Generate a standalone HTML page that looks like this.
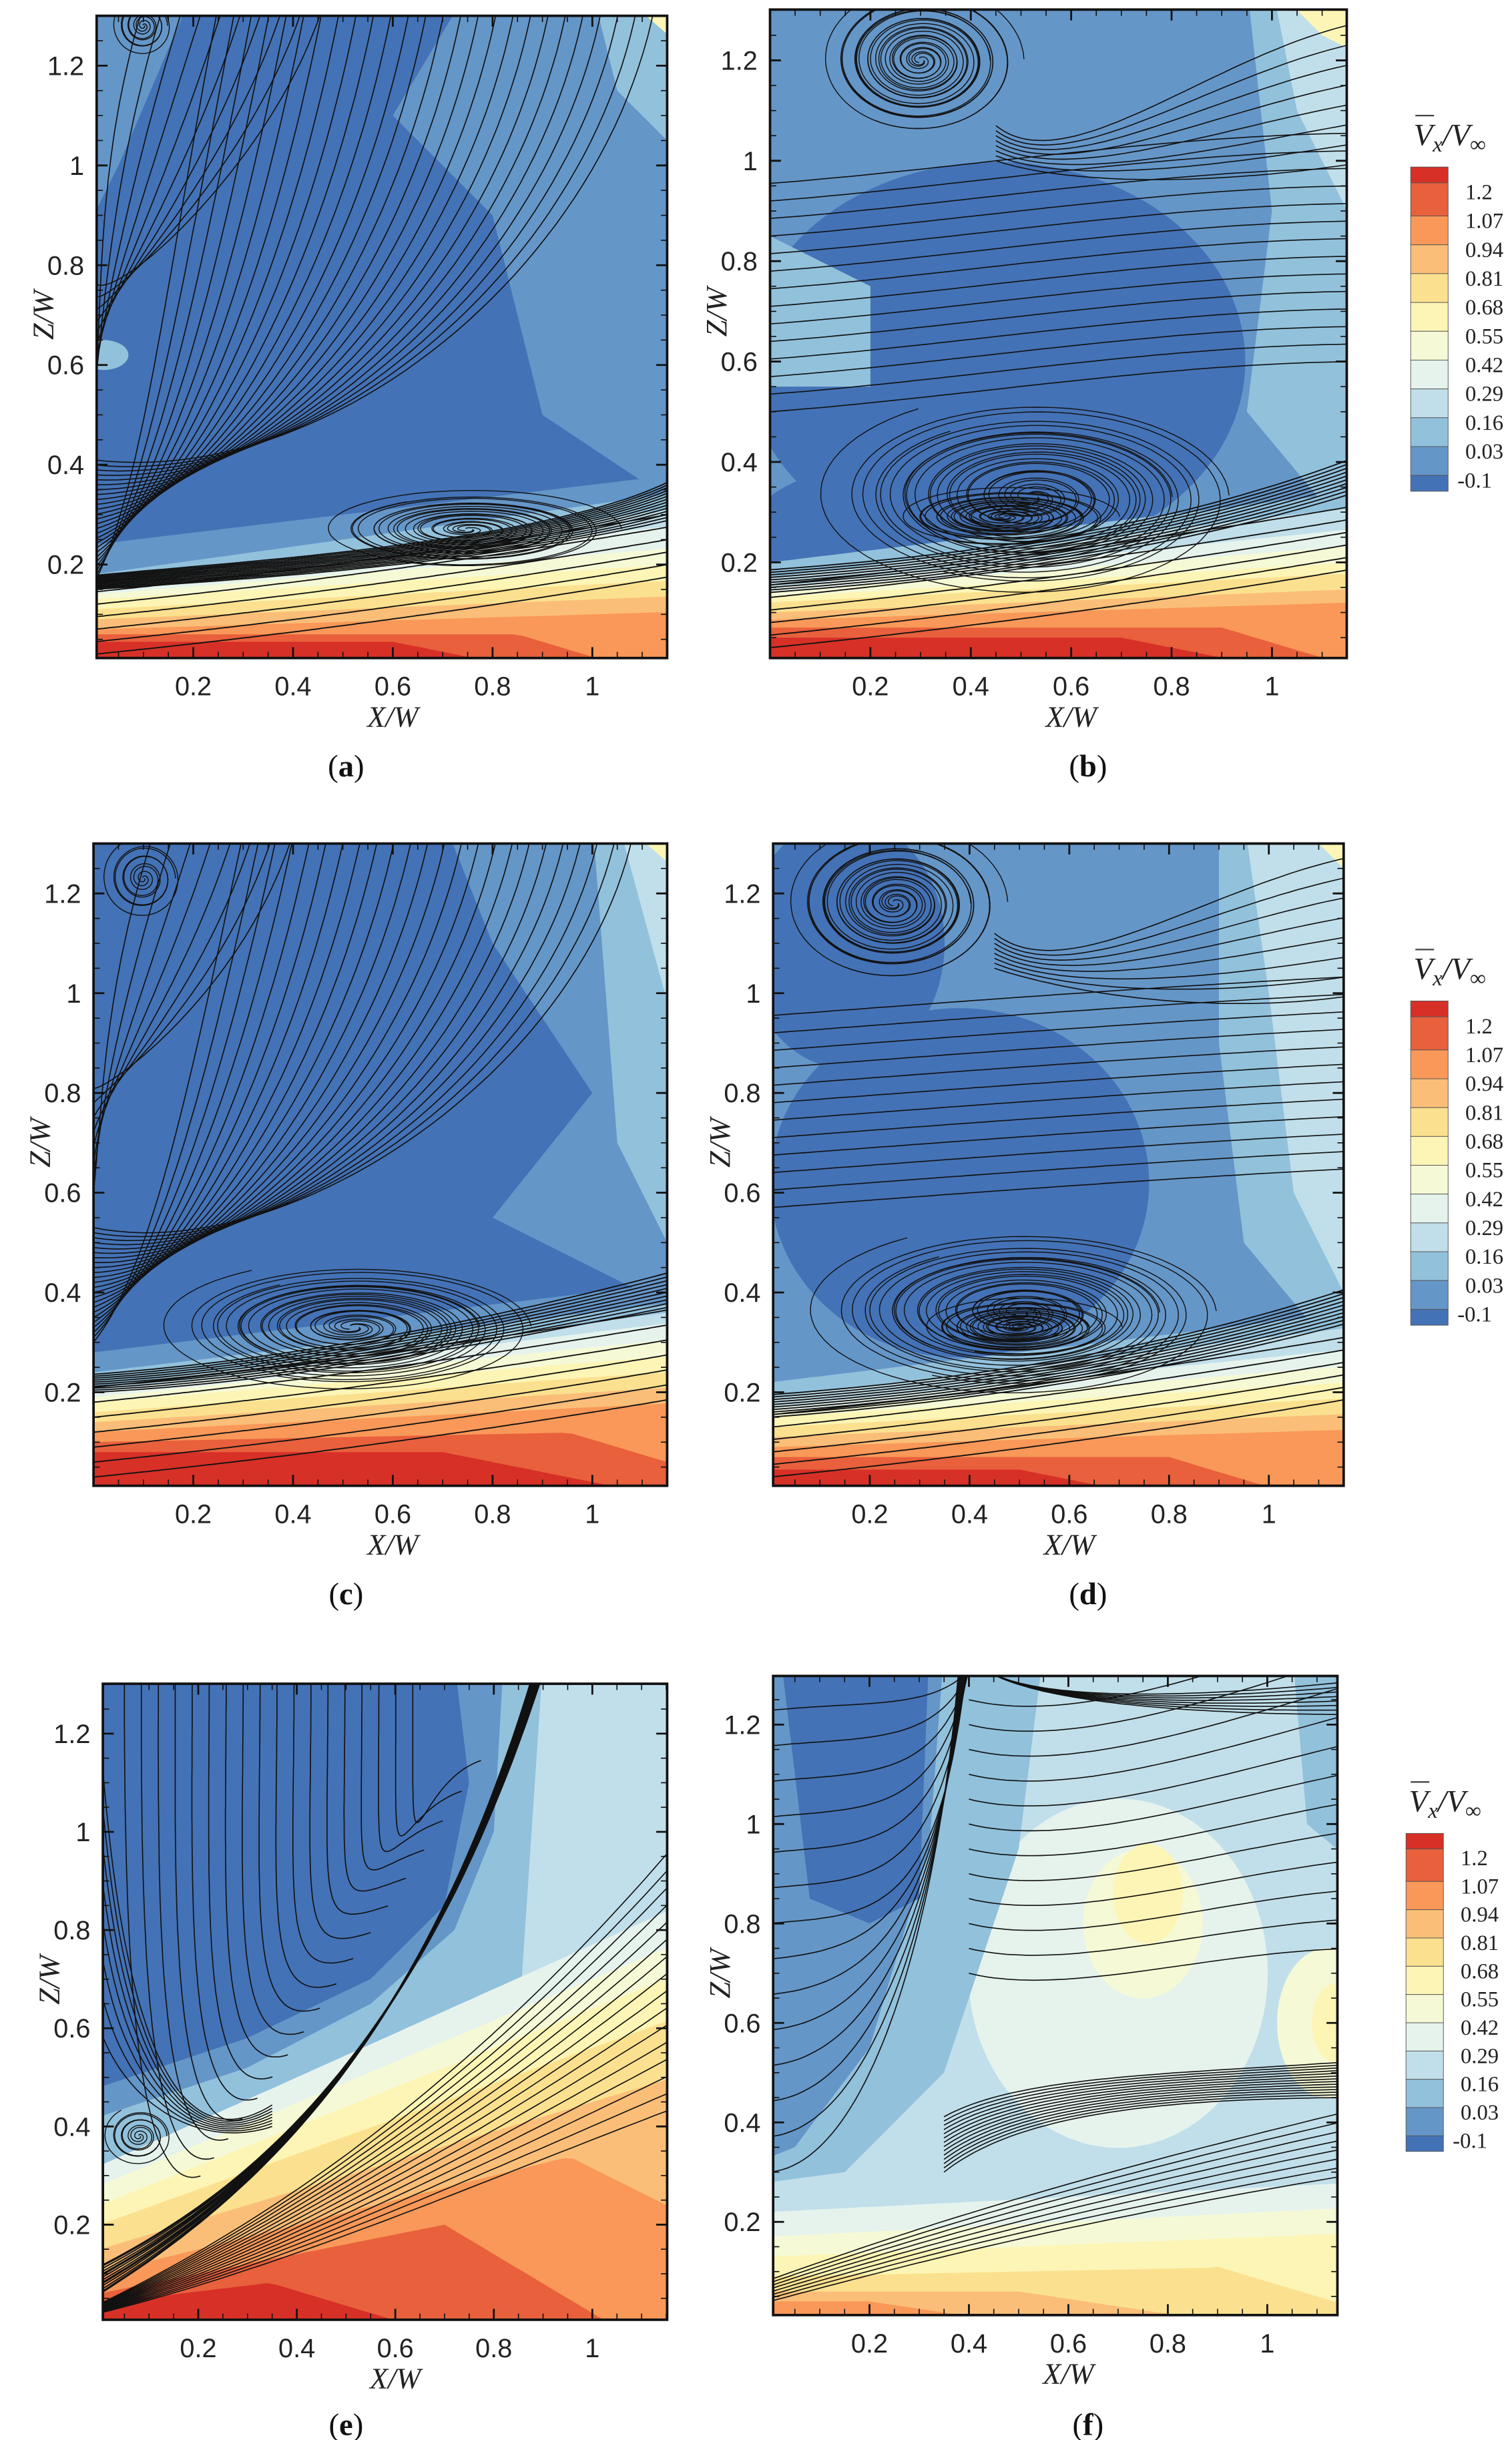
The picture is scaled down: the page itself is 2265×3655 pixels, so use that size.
<!DOCTYPE html>
<html><head><meta charset="utf-8"><style>
html,body{margin:0;padding:0;background:#fff;}
svg{display:block;}
</style></head><body>
<svg id="s" xmlns="http://www.w3.org/2000/svg" width="2265" height="3655" viewBox="0 0 970 1565">
<rect width="970" height="1565" fill="#fff"/>
</svg>
<script>
var S=document.getElementById('s'),NS='http://www.w3.org/2000/svg';
function el(t,a,p){var e=document.createElementNS(NS,t);for(var k in a)e.setAttribute(k,a[k]);(p||S).appendChild(e);return e;}
var C=['#d73027','#e8603c','#f99858','#fbbe78','#fbe18f','#fdf5b5','#f5f9d5','#e6f3ed','#c1dfea','#92c1dc','#6596c8','#4472b6'];
function Panel(id,x0,z0,sx,sz,box){
 var P={};P.X=function(x){return x0+x*sx};P.Z=function(z){return z0-z*sz};
 var d=el('defs',{});var cp=el('clipPath',{id:'c'+id},d);
 el('rect',{x:box[0],y:box[1],width:box[2]-box[0],height:box[3]-box[1]},cp);
 P.g=el('g',{'clip-path':'url(#c'+id+')'});P.box=box;P.id=id;return P;}
function base(P,c){el('rect',{x:P.box[0],y:P.box[1],width:P.box[2]-P.box[0],height:P.box[3]-P.box[1],fill:c},P.g);}
function below(P,c,f,x1,x2){x1=x1||0;x2=(x2===undefined)?1.2:x2;var s='M'+P.X(x1)+','+P.Z(-0.2);
 for(var x=x1;x<=x2+1e-9;x+=0.02){s+=' L'+P.X(x).toFixed(1)+','+P.Z(f(x)).toFixed(1);}
 s+=' L'+P.X(x2)+','+P.Z(-0.2)+'Z';el('path',{d:s,fill:c},P.g);}
function ell(P,c,cx,cz,rx,rz){el('ellipse',{cx:P.X(cx),cy:P.Z(cz),rx:rx*320,ry:rz*320,fill:c},P.g);}
function poly(P,c,pts){var s='';pts.forEach(function(p,i){s+=(i?'L':'M')+P.X(p[0]).toFixed(1)+','+P.Z(p[1]).toFixed(1)});el('path',{d:s+'Z',fill:c},P.g);}
function line(P,pts,w){var s='';pts.forEach(function(p,i){s+=(i?'L':'M')+P.X(p[0]).toFixed(1)+','+P.Z(p[1]).toFixed(1)});el('path',{d:s,fill:'none',stroke:'#111','stroke-width':w||0.7},P.g);}
function fn(P,f,x1,x2,w){var p=[];for(var x=x1;x<=x2+1e-9;x+=0.01)p.push([x,f(x)]);line(P,p,w);}
function bez(P,a,b,c,d,w){var p=[];for(var t=0;t<=1.0001;t+=0.02){var u=1-t;p.push([u*u*u*a[0]+3*u*u*t*b[0]+3*u*t*t*c[0]+t*t*t*d[0],u*u*u*a[1]+3*u*u*t*b[1]+3*u*t*t*c[1]+t*t*t*d[1]]);}line(P,p,w);}
function spiral(P,cx,cz,rx,rz,turns,n){for(var k=0;k<n;k++){var p=[],T=turns*2*Math.PI,ph=k*2.1;
 for(var t=0;t<=T;t+=0.08){var r=(1-t/T)*(0.55+0.45*(k+1)/n)+0.03;p.push([cx+rx*r*Math.cos(t+ph), cz+rz*r*Math.sin(t+ph)]);}line(P,p,0.6);}}
function axes(P,xl,zl){var b=P.box;el('rect',{x:b[0],y:b[1],width:b[2]-b[0],height:b[3]-b[1],fill:'none',stroke:'#111','stroke-width':1.6});
 for(var x=0.05;x<1.16;x+=0.05){var X=P.X(x);if(X<b[0]||X>b[2])continue;var M=Math.abs(x*5-Math.round(x*5))<0.01;var L=M?7:4;
  el('line',{x1:X,y1:b[3],x2:X,y2:b[3]-L,stroke:'#111','stroke-width':M?1.2:0.7});el('line',{x1:X,y1:b[1],x2:X,y2:b[1]+L,stroke:'#111','stroke-width':M?1.2:0.7});}
 for(var z=0.05;z<1.31;z+=0.05){var Z=P.Z(z);if(Z<b[1]||Z>b[3])continue;var M=Math.abs(z*5-Math.round(z*5))<0.01;var L=M?7:4;
  el('line',{x1:b[0],y1:Z,x2:b[0]+L,y2:Z,stroke:'#111','stroke-width':M?1.2:0.7});el('line',{x1:b[2],y1:Z,x2:b[2]-L,y2:Z,stroke:'#111','stroke-width':M?1.2:0.7});}
 ['0.2','0.4','0.6','0.8','1'].forEach(function(t){var e=el('text',{x:P.X(+t),y:b[3]+24,'text-anchor':'middle','font-family':'Liberation Sans Narrow, Liberation Sans, sans-serif','font-size':17,fill:'#222'});e.textContent=t;});
 ['0.2','0.4','0.6','0.8','1','1.2'].forEach(function(t){var e=el('text',{x:b[0]-8,y:P.Z(+t)+6,'text-anchor':'end','font-family':'Liberation Sans Narrow, Liberation Sans, sans-serif','font-size':17,fill:'#222'});e.textContent=t;});
 var e=el('text',{x:(P.X(0.6)),y:b[3]+44,'text-anchor':'middle','font-family':'Liberation Serif, serif','font-style':'italic','font-size':19,fill:'#222'});e.textContent='X/W';
 var cy=(b[1]+b[3])/2-14;e=el('text',{x:b[0]-28,y:cy,'text-anchor':'middle','font-family':'Liberation Serif, serif','font-style':'italic','font-size':19,fill:'#222',transform:'rotate(-90 '+(b[0]-28)+' '+cy+')'});e.textContent='Z/W';
 e=el('text',{x:xl,y:zl,'text-anchor':'middle','font-family':'Liberation Serif, serif','font-size':20,fill:'#111'});e.innerHTML='(<tspan font-weight="bold">'+P.id+'</tspan>)';}
function bottomLines(P,c0,sl,n,dz){for(var i=0;i<n;i++){var c=c0+i*dz;fn(P,function(x){return c+sl*x+0.03*x*x},0,1.2,0.8);}}
function colorbar(x,y,h){var e=el('text',{x:x+25,y:y-14,'text-anchor':'middle','font-family':'Liberation Serif, serif','font-style':'italic','font-size':20,fill:'#222'});e.innerHTML='V<tspan font-size="14" dy="4">x</tspan><tspan dy="-4">/V</tspan><tspan font-size="14" dy="4">∞</tspan>';
 el('line',{x1:x+3,y1:y-33,x2:x+15,y2:y-33,stroke:'#444','stroke-width':1});
 var lab=['1.2','1.07','0.94','0.81','0.68','0.55','0.42','0.29','0.16','0.03','-0.1'];
 var hs=[0.55,1.15,1,1,1,1,1,1,1,1,1,0.55];var cur=y;
 for(var i=0;i<12;i++){var H=hs[i]*h/11.25;el('rect',{x:x,y:cur,width:24,height:H,fill:C[i],stroke:'#555','stroke-width':0.4});cur+=H;}
 for(var i=0;i<11;i++){var t=el('text',{x:x+(i==10?30:35),y:y+h*(i+0.85)/11.25+5,'font-family':'Liberation Serif, serif','font-size':14,fill:'#222'});t.textContent=lab[i];}}

// ---------- (a)
var A=Panel('a',60,426,320,320,[62,10,428,422]);
base(A,C[11]);
poly(A,C[10],[[0.75,1.35],[1.2,1.35],[1.2,0.3],[0.9,0.5],[0.8,0.9],[0.6,1.1]]);
poly(A,C[10],[[0,1.35],[0.2,1.35],[0.05,1.0],[0,0.9]]);
ell(A,C[9],0.02,0.62,0.05,0.03);
below(A,C[10],function(x){return 0.24+0.12*x});below(A,C[9],function(x){return 0.18+0.14*x});
below(A,C[8],function(x){return 0.16+0.13*x});below(A,C[7],function(x){return 0.15+0.11*x});
below(A,C[6],function(x){return 0.14+0.08*x});below(A,C[5],function(x){return 0.13+0.06*x});
below(A,C[4],function(x){return 0.11+0.05*x});below(A,C[3],function(x){return 0.09+0.04*x});
below(A,C[2],function(x){return 0.07+0.03*x});below(A,C[1],function(x){return x<0.85?0.06:0.06-(x-0.85)*0.3});
below(A,C[0],function(x){return x<0.6?0.045:0.045-(x-0.6)*0.2});
poly(A,C[9],[[1.0,1.35],[1.2,1.35],[1.2,1.0],[1.05,1.15]]);poly(A,C[5],[[1.05,1.35],[1.2,1.35],[1.2,1.22]]);
for(var i=0;i<26;i++){var xs=0.25+i*0.035;bez(A,[xs,1.32],[xs-0.1,0.8],[0.1+i*0.015,0.35],[0,0.16+i*0.01]);}
for(var i=0;i<10;i++){var xs=0.1+i*0.04;bez(A,[xs,1.32],[xs-0.1,1.0],[0.02,0.7],[0,0.5+i*0.03]);}
for(var i=0;i<14;i++){var k=i/14;bez(A,[0,0.15+k*0.03],[0.3,0.17+k*0.04],[0.8+k*0.2,0.2+k*0.05],[1.2,0.3+k*0.1],0.8);}
spiral(A,0.75,0.27,0.3,0.08,5,4);spiral(A,0.1,1.28,0.06,0.06,4,2);
bottomLines(A,0.02,0.1,6,0.025);
axes(A,222,498);

// ---------- (b)
var B=Panel('b',494,425,322,322,[494,6,864,422]);
base(B,C[10]);
ell(B,C[11],0.45,0.6,0.5,0.4);ell(B,C[11],0.25,0.25,0.3,0.15);
poly(B,C[9],[[0.95,1.35],[1.2,1.35],[1.2,0.2],[0.95,0.5],[1.0,0.9]]);
poly(B,C[8],[[1.0,1.35],[1.2,1.35],[1.2,0.8],[1.05,1.1]]);poly(B,C[5],[[1.0,1.35],[1.2,1.35],[1.2,1.2],[1.1,1.25]]);
poly(B,C[9],[[0,0.85],[0.2,0.75],[0.2,0.55],[0,0.55]]);
below(B,C[9],function(x){return 0.2+0.12*x});below(B,C[8],function(x){return 0.17+0.12*x});
below(B,C[7],function(x){return 0.15+0.1*x});below(B,C[6],function(x){return 0.14+0.08*x});
below(B,C[5],function(x){return 0.13+0.06*x});below(B,C[4],function(x){return 0.12+0.05*x});
below(B,C[3],function(x){return 0.1+0.04*x});below(B,C[2],function(x){return 0.085+0.03*x});
below(B,C[1],function(x){return x<0.9?0.07:0.07-(x-0.9)*0.3});below(B,C[0],function(x){return x<0.7?0.05:0.05-(x-0.7)*0.2});
spiral(B,0.3,1.2,0.2,0.15,6,4);
for(var i=0;i<14;i++){var z=0.55+i*0.035;bez(B,[1.2,z+0.05],[0.8,z+0.05],[0.4,z-0.02],[0,z-0.05]);}
for(var i=0;i<8;i++){var z=1.0+i*0.04;bez(B,[1.2,z],[0.9,z-0.05],[0.6,0.95],[0.45,1.0+i*0.01]);}
spiral(B,0.52,0.33,0.42,0.2,5,5);spiral(B,0.47,0.29,0.22,0.06,5,4);
for(var i=0;i<10;i++){var k=i/10;bez(B,[0,0.14+k*0.05],[0.4,0.17+k*0.05],[0.8,0.22+k*0.05],[1.2,0.35+k*0.08],0.8);}
bottomLines(B,0.03,0.1,6,0.025);
axes(B,698,498);

// ---------- (c)
var Cc=Panel('c',60,957,320,320,[60,541,428,953]);
base(Cc,C[11]);
poly(Cc,C[10],[[0.7,1.35],[1.2,1.35],[1.2,0.35],[0.8,0.55],[1.0,0.8],[0.8,1.1]]);
poly(Cc,C[9],[[1.0,1.35],[1.2,1.35],[1.2,0.4],[1.05,0.7]]);poly(Cc,C[8],[[1.05,1.35],[1.2,1.35],[1.2,0.8]]);
poly(Cc,C[5],[[1.05,1.35],[1.2,1.35],[1.2,1.22]]);
below(Cc,C[10],function(x){return 0.28+0.12*x});below(Cc,C[9],function(x){return 0.24+0.12*x});
below(Cc,C[8],function(x){return 0.21+0.13*x});below(Cc,C[7],function(x){return 0.2+0.12*x});
below(Cc,C[6],function(x){return 0.19+0.1*x});below(Cc,C[5],function(x){return 0.18+0.08*x});
below(Cc,C[4],function(x){return 0.16+0.07*x});below(Cc,C[3],function(x){return 0.14+0.06*x});
below(Cc,C[2],function(x){return 0.12+0.05*x});below(Cc,C[1],function(x){return x<0.95?0.1+0.02*x:0.12-(x-0.95)*0.3});
below(Cc,C[0],function(x){return x<0.7?0.08:0.08-(x-0.7)*0.2});
for(var i=0;i<24;i++){var xs=0.3+i*0.034;bez(Cc,[xs,1.32],[xs-0.1,0.85],[0.12+i*0.012,0.45],[0,0.3+i*0.01]);}
for(var i=0;i<8;i++){var xs=0.12+i*0.04;bez(Cc,[xs,1.32],[xs-0.1,1.0],[0.02,0.8],[0,0.6+i*0.03]);}
spiral(Cc,0.52,0.33,0.38,0.13,5,5);spiral(Cc,0.1,1.23,0.08,0.08,4,2);
for(var i=0;i<10;i++){var k=i/10;bez(Cc,[0,0.2+k*0.04],[0.4,0.22+k*0.05],[0.8,0.3+k*0.05],[1.2,0.38+k*0.08],0.8);}
bottomLines(Cc,0.03,0.1,7,0.03);
axes(Cc,222,1029);

// ---------- (d)
var D=Panel('d',494,957,320,320,[496,541,862,953]);
base(D,C[10]);
ell(D,C[11],0.38,0.62,0.38,0.35);ell(D,C[11],0.15,1.1,0.2,0.25);
poly(D,C[9],[[0.9,1.35],[1.2,1.35],[1.2,0.2],[0.95,0.5],[0.9,0.9]]);
poly(D,C[8],[[0.95,1.35],[1.2,1.35],[1.2,0.3],[1.05,0.6],[1.0,1.0]]);poly(D,C[5],[[1.05,1.35],[1.2,1.35],[1.2,1.2]]);
below(D,C[9],function(x){return 0.22+0.12*x});below(D,C[8],function(x){return 0.19+0.12*x});
below(D,C[7],function(x){return 0.17+0.1*x});below(D,C[6],function(x){return 0.16+0.08*x});
below(D,C[5],function(x){return 0.15+0.06*x});below(D,C[4],function(x){return 0.13+0.05*x});
below(D,C[3],function(x){return 0.11+0.04*x});below(D,C[2],function(x){return 0.09+0.03*x});
below(D,C[1],function(x){return x<0.8?0.07:0.07-(x-0.8)*0.3});below(D,C[0],function(x){return x<0.5?0.045:0.045-(x-0.5)*0.2});
spiral(D,0.25,1.18,0.22,0.16,6,4);
for(var i=0;i<12;i++){var z=0.6+i*0.035;bez(D,[1.2,z+0.05],[0.8,z+0.03],[0.4,z],[0,z-0.03]);}
for(var i=0;i<8;i++){var z=1.0+i*0.04;bez(D,[1.2,z],[0.9,z-0.05],[0.6,1.0],[0.45,1.05+i*0.01]);}
spiral(D,0.5,0.36,0.42,0.17,5,5);spiral(D,0.5,0.33,0.2,0.06,5,4);
for(var i=0;i<10;i++){var k=i/10;bez(D,[0,0.15+k*0.05],[0.4,0.18+k*0.05],[0.8,0.24+k*0.05],[1.2,0.35+k*0.08],0.8);}
bottomLines(D,0.03,0.1,6,0.025);
axes(D,698,1029);

// ---------- (e)
var E=Panel('e',64,1490,316,315,[66,1080,428,1488]);
base(E,C[9]);
poly(E,C[8],[[0.9,1.35],[1.2,1.35],[1.2,0.5],[0.85,0.6]]);
poly(E,C[11],[[0,1.35],[0.72,1.35],[0.75,1.1],[0.7,0.85],[0.55,0.7],[0.3,0.58],[0.1,0.5],[0,0.48]]);
poly(E,C[10],[[0.72,1.35],[0.82,1.35],[0.8,1.0],[0.72,0.8],[0.55,0.65],[0.3,0.52],[0,0.42],[0,0.48],[0.3,0.58],[0.55,0.7],[0.7,0.85],[0.75,1.1]]);
below(E,C[7],function(x){return 0.32+0.45*x});below(E,C[6],function(x){return 0.28+0.42*x});
below(E,C[5],function(x){return 0.24+0.4*x});below(E,C[4],function(x){return 0.2+0.36*x});
below(E,C[3],function(x){return 0.15+0.3*x});below(E,C[2],function(x){return x<0.95?0.1+0.25*x:0.34-(x-0.95)*0.5});
below(E,C[1],function(x){return x<0.7?0.06+0.2*x:0.2-(x-0.7)*0.6});below(E,C[0],function(x){return x<0.35?0.04+0.12*x:0.08-(x-0.35)*0.3});
// diagonal converging line
function dg(t){return [0.9*t+0.02*Math.sin(t*3), 0.05+1.3*t*t*0.5+0.6*t];}
for(var i=0;i<18;i++){var k=i/18;var xs=0.05+k*0.62;var t=0.3+k*0.65;var p=[0.9*t*t*0.3+0.6*t,0.05+0.65*t+0.6*t*t];
 bez(E,[xs,1.32],[xs,0.9-k*0.1],[p[0]-0.15,p[1]-0.05],p);}
for(var i=0;i<10;i++){var k=i/10;bez(E,[0,0.06+k*0.06],[0.3,0.25+k*0.02],[0.65,0.55],[0.88+k*0.02,1.32],i%3==0?1.4:0.8);}
for(var i=0;i<16;i++){var k=i/16;bez(E,[0,0.02+k*0.02],[0.4,0.12+k*0.12],[0.8,0.3+k*0.25],[1.2,0.45+k*0.6]);}
for(var i=0;i<8;i++){var k=i/8;bez(E,[0,0.6+k*0.7],[0.05,0.45],[0.2,0.35],[0.35,0.4+k*0.05]);}
spiral(E,0.08,0.38,0.07,0.06,4,2);
axes(E,222,1562);

// ---------- (f)
var F=Panel('f',494,1489,319,319,[496,1075,858,1485]);
base(F,C[8]);
ell(F,C[7],0.7,0.7,0.3,0.35);ell(F,C[6],0.75,0.8,0.12,0.15);ell(F,C[5],0.76,0.86,0.07,0.1);ell(F,C[6],1.12,0.6,0.1,0.15);ell(F,C[5],1.14,0.6,0.05,0.08);
poly(F,C[9],[[0,1.35],[0.55,1.35],[0.5,0.95],[0.35,0.5],[0.15,0.3],[0,0.28]]);
poly(F,C[10],[[0,1.35],[0.35,1.35],[0.32,0.95],[0.2,0.55],[0.05,0.35],[0,0.33]]);
poly(F,C[11],[[0.02,1.35],[0.32,1.35],[0.3,0.85],[0.2,0.8],[0.08,0.85]]);
poly(F,C[9],[[1.05,1.35],[1.2,1.35],[1.2,0.9],[1.08,1.0]]);
below(F,C[7],function(x){return 0.22+0.05*x});below(F,C[6],function(x){return 0.17+0.05*x});
below(F,C[5],function(x){return 0.13+0.04*x});below(F,C[4],function(x){return x<0.9?0.09+0.02*x:0.11-(x-0.9)*0.3});
below(F,C[3],function(x){return x<0.5?0.06:0.06-(x-0.5)*0.15});below(F,C[2],function(x){return x<0.2?0.04:0.04-(x-0.2)*0.15});
for(var i=0;i<14;i++){var k=i/14;var z=0.3+k*1.0;bez(F,[0,z],[0.2,z+0.02],[0.34,Math.max(z,0.8)],[0.38+k*0.03,1.32]);}
for(var i=0;i<14;i++){var k=i/14;bez(F,[0.35,0.3+k*0.12],[0.5,0.42+k*0.08],[0.8,0.45+k*0.05],[1.2,0.45+k*0.08]);}
for(var i=0;i<12;i++){var z=0.7+i*0.05;bez(F,[0.4,z],[0.6,z-0.05],[0.9,z+0.05],[1.2,z+0.05+i*0.01]);}
for(var i=0;i<8;i++){var k=i/8;bez(F,[0,0.04+k*0.05],[0.3,0.12+k*0.08],[0.6,0.2+k*0.1],[1.2,0.3+k*0.15]);}
for(var i=0;i<8;i++){var k=i/8;bez(F,[0.42,1.32],[0.5,1.25],[0.8,1.22+k*0.03],[1.2,1.22+k*0.08]);}
axes(F,698,1562);

colorbar(905,107,208);colorbar(905,642,208);colorbar(902,1176,204);
</script>
</body></html>
